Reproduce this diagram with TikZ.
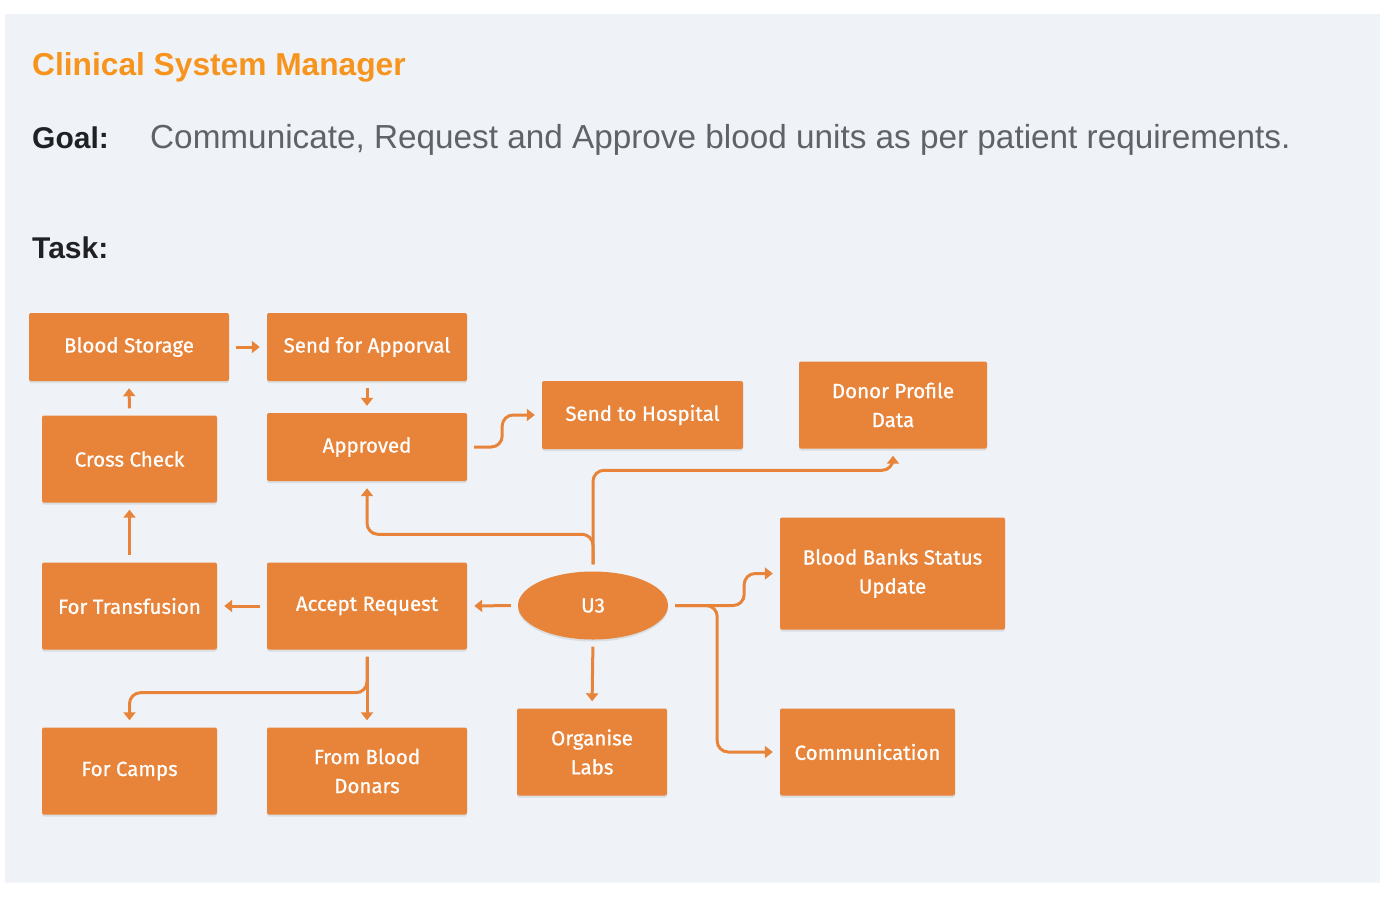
\documentclass[tikz,border=0pt]{standalone}
\usepackage{fontspec}
\setmainfont{Liberation Sans}
\newfontfamily\boxfont[FakeBold=0.8]{Fira Sans}
\usepackage{tikz}
\usetikzlibrary{shapes.geometric, positioning, arrows.meta, shadows}
\definecolor{panelbg}{HTML}{EFF3F7}
\definecolor{taskorange}{HTML}{E8843A}
\definecolor{titleorange}{HTML}{F7941D}
\definecolor{goalgray}{HTML}{5F6368}
\definecolor{inkdark}{HTML}{202124}

\begin{document}
\begin{tikzpicture}[x=1pt, y=-1pt,
  taskbox/.style={rectangle, fill=taskorange, rounded corners=2pt, text=white, align=center,
    font=\boxfont\fontsize{20.5}{29}\selectfont, inner sep=0pt,
    drop shadow={shadow xshift=0pt, shadow yshift=-2pt, opacity=0.18}},
  hub/.style={ellipse, fill=taskorange, text=white, font=\boxfont\fontsize{20.5}{29}\selectfont,
    minimum width=150pt, minimum height=68pt, inner sep=0pt,
    drop shadow={shadow xshift=0pt, shadow yshift=-2pt, opacity=0.18}},
  flow/.style={draw=taskorange, line width=3pt, -{Triangle[length=8pt, width=12pt]},
    shorten <=7pt, shorten >=7pt},
  elbowflow/.style={flow, rounded corners=11pt},
  heading/.style={anchor=base west, inner sep=0pt}]
\useasboundingbox (0,0) rectangle (1398,898);
\fill[white] (0,0) rectangle (1398,898);
\fill[panelbg, drop shadow={shadow xshift=0pt, shadow yshift=-1pt, opacity=0.08}] (5,14) rectangle (1380,882);

\node[heading, font=\bfseries\fontsize{31.7}{36}\selectfont, text=titleorange] (title) at (32,75) {Clinical System Manager};
\node[heading, font=\bfseries\fontsize{30}{36}\selectfont, text=inkdark] (goal) at (32,148) {Goal:};
\node[heading, font=\fontsize{33.3}{38}\selectfont, text=goalgray] (goaltext) at (150,148)
  {Communicate, Request and Approve blood units as per patient requirements.};
\node[heading, font=\bfseries\fontsize{30}{36}\selectfont, text=inkdark] (task) at (32,258) {Task:};

\node[taskbox, minimum width=200pt, minimum height=68pt] (storage) at (129,347) {Blood Storage};
\node[taskbox, minimum width=200pt, minimum height=68pt] (approval) at (367,347) {Send for Apporval};
\node[taskbox, minimum width=175pt, minimum height=87pt] (crosscheck) at (129.5,459) {Cross Check};
\node[taskbox, minimum width=200pt, minimum height=68pt] (approved) at (367,447) {Approved};
\node[taskbox, minimum width=201pt, minimum height=68pt] (hospital) at (642.5,415) {Send to Hospital};
\node[taskbox, minimum width=188pt, minimum height=87pt] (donor) at (893,405) {Donor Profile\\Data};
\node[taskbox, minimum width=175pt, minimum height=87pt] (transfusion) at (129.5,606) {For Transfusion};
\node[taskbox, minimum width=200pt, minimum height=87pt] (accept) at (367,606) {Accept Request};
\node[hub] (u3) at (593,605.5) {U3};
\node[taskbox, minimum width=225pt, minimum height=112pt] (status) at (892.5,573.5) {Blood Banks Status\\Update};
\node[taskbox, minimum width=175pt, minimum height=87pt] (camps) at (129.5,771) {For Camps};
\node[taskbox, minimum width=200pt, minimum height=87pt] (donars) at (367,771) {From Blood\\Donars};
\node[taskbox, minimum width=150pt, minimum height=87pt] (labs) at (592,752) {Organise\\Labs};
\node[taskbox, minimum width=175pt, minimum height=87pt] (comm) at (867.5,752) {Communication};

\draw[flow] (storage.east) -- (approval.west);
\draw[flow] (crosscheck.north) -- (storage.south);
\draw[flow] (approval.south) -- (approved.north);
\draw[flow] (transfusion.north) -- (crosscheck.south);
\draw[flow] (accept.west) -- (transfusion.east);
\draw[flow] (u3.west) -- (accept.east);
\draw[flow] (u3.south) -- (labs.north);
\draw[elbowflow] (approved.east) -- ++(35,0) |- (hospital.west);
\draw[elbowflow] (u3.north) -- ++(0,-101) -| (donor.south);
\draw[elbowflow] (u3.north) -- ++(0,-37) -| (approved.south);
\draw[elbowflow] (u3.east) -- ++(76,0) |- (status.west);
\draw[elbowflow] (u3.east) -- ++(49,0) |- (comm.west);
\draw[flow] (accept.south) -- (donars.north);
\draw[elbowflow] (accept.south) -- ++(0,43) -| (camps.north);
\end{tikzpicture}
\end{document}
